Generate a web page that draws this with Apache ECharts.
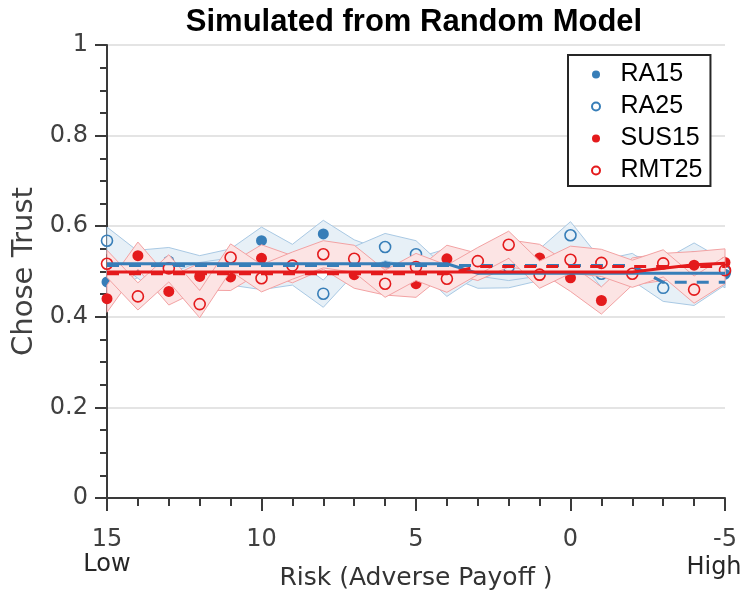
<!DOCTYPE html>
<html><head><meta charset="utf-8">
<script src="https://cdn.jsdelivr.net/npm/echarts@6/dist/echarts.min.js"></script>
<style>html,body{margin:0;padding:0;background:#fff}#c{width:741px;height:596px}</style>
</head><body><div id="c"></div>
<script>
// ---------------- data ----------------
const riskX = [15,14,13,12,11,10,9,8,7,6,5,4,3,2,1,0,-1,-2,-3,-4,-5];
const RA15  = [0.477,0.517,0.523,0.505,0.520,0.568,0.530,0.583,0.540,0.515,0.500,0.520,0.493,0.494,0.510,0.508,0.500,0.505,0.495,0.533,0.494];
const RA25  = [0.568,0.515,0.467,0.490,0.500,0.490,0.500,0.451,0.525,0.554,0.538,0.475,0.520,0.510,0.520,0.580,0.495,0.510,0.464,0.455,0.500];
const SUS15 = [0.440,0.535,0.456,0.489,0.488,0.529,0.505,0.535,0.493,0.478,0.473,0.528,0.510,0.540,0.530,0.486,0.436,0.500,0.510,0.514,0.520];
const RMT25 = [0.517,0.445,0.507,0.428,0.531,0.485,0.513,0.538,0.528,0.473,0.510,0.484,0.523,0.559,0.493,0.526,0.519,0.495,0.518,0.460,0.503];
// model fits
const RA15fit  = [0.517,0.517,0.517,0.517,0.517,0.517,0.517,0.517,0.517,0.517,0.517,0.517,0.496,0.496,0.496,0.496,0.496,0.496,0.496,0.496,0.496];
const RA25fit  = [0.513,0.513,0.513,0.513,0.513,0.513,0.513,0.513,0.513,0.513,0.513,0.513,0.513,0.513,0.513,0.513,0.513,0.513,0.476,0.476,0.476];
const SUS15fit = [0.499,0.499,0.499,0.499,0.499,0.499,0.499,0.499,0.499,0.499,0.499,0.499,0.499,0.499,0.499,0.499,0.499,0.499,0.507,0.515,0.518];
const RMT25fit = [0.495,0.495,0.495,0.495,0.495,0.495,0.495,0.495,0.495,0.495,0.495,0.495,0.511,0.511,0.511,0.511,0.511,0.511,0.511,0.511,0.511];
// half width of the confidence band
const bandHalf = [0.03];
const seriesNames = ['RA15','RA25','SUS15','RMT25'];
const xTicks = [15,10,5,0,-5];
const yTicks = ['0','0.2','0.4','0.6','0.8','1'];

// ---------------- styles ----------------
const BLUE = '#377eb8', RED = '#e41a1c';
const BLUE_FILL = '#e7f0f7', BLUE_EDGE = '#a9c9e4';
const RED_FILL = '#fce4e4', RED_EDGE = '#f3a2a3';
const AX = '"DejaVu Sans", sans-serif';
const AXC = '#3a3a3a';

function pairs(vals){ return riskX.map((x,i)=>[x, vals[i]]); }

function band(name, vals, fill, edge, z){
  return {
    type:'custom', name:name+' band', silent:true, animation:false, z:z,
    data: pairs(vals), encode:{x:0,y:1},
    renderItem: function(params, api){
      if (params.dataIndex !== 0) return null;
      const h = bandHalf[0];
      const up = riskX.map((x,i)=>api.coord([x, vals[i]+h]));
      const lo = riskX.map((x,i)=>api.coord([x, vals[i]-h])).reverse();
      return {type:'polygon', shape:{points: up.concat(lo)}, style:{fill: fill, stroke: edge, lineWidth: 1, opacity:1}};
    }
  };
}
function pts(name, vals, color, open, z){
  return {
    type:'scatter', name:name, data: pairs(vals), symbol:'circle', symbolSize: 11,
    silent:true, clip:false, z:z,
    itemStyle: open ? {color:'rgba(255,255,255,0)', borderColor:color, borderWidth:1.6, opacity:1}
                    : {color:color, opacity:1},
    emphasis:{disabled:true}
  };
}
function fit(vals, color, dashed, z){
  return {
    type:'line', data: pairs(vals), symbol:'none', silent:true, z:z,
    lineStyle:{color:color, width:3, type: dashed ? [12,10] : 'solid'},
    emphasis:{disabled:true}
  };
}

const chart = echarts.init(document.getElementById('c'), null, {renderer:'canvas'});
chart.setOption({
  animation:false,
  backgroundColor:'#fff',
  title:{
    text:'Simulated from Random Model', left:409, top:2, textAlign:'center',
    textStyle:{fontFamily:'"Liberation Sans", Arial, sans-serif', fontWeight:'bold', fontSize:31, color:'#000'}
  },
  grid:{left:107, right:16, top:45, bottom:98, containLabel:false, outerBoundsMode:'none'},
  legend:{
    show:true, orient:'vertical', left:568, top:55, z:30, data: seriesNames,
    itemWidth:39, itemHeight:8, itemGap:7, padding:[7,8,3,23],
    backgroundColor:'#fff', borderColor:'#262626', borderWidth:2, borderRadius:0,
    selectedMode:false,
    textStyle:{fontFamily:'"Liberation Sans", Arial, sans-serif', fontSize:25, lineHeight:25, color:'#000'}
  },
  xAxis:{
    type:'value', min:-5, max:15, interval:5, inverse:true,
    axisLine:{show:true, onZero:false, lineStyle:{color:AXC, width:2}},
    axisTick:{show:true, length:13, lineStyle:{color:AXC, width:2}},
    minorTick:{show:true, splitNumber:5, length:8, lineStyle:{color:AXC, width:2}},
    splitLine:{show:false},
    axisLabel:{fontFamily:AX, fontSize:24, color:'#404040', margin:30,
      formatter: v => String(xTicks[xTicks.indexOf(v)])},
    name:'Risk (Adverse Payoff )', nameLocation:'middle', nameGap:68,
    nameTextStyle:{fontFamily:AX, fontSize:25, color:'#333'}
  },
  yAxis:{
    type:'value', min:0, max:1, interval:0.2,
    axisLine:{show:true, onZero:false, lineStyle:{color:AXC, width:2}},
    axisTick:{show:true, length:12, lineStyle:{color:AXC, width:2}},
    minorTick:{show:true, splitNumber:4, length:7, lineStyle:{color:AXC, width:2}},
    splitLine:{show:true, lineStyle:{color:'#e4e4e4', width:2}},
    axisLabel:{fontFamily:AX, fontSize:24, color:'#404040', margin:19,
      formatter: v => yTicks[Math.round(v*5)]},
    name:'Chose Trust', nameLocation:'middle', nameGap:55, nameRotate:90,
    nameTextStyle:{fontFamily:AX, fontSize:29, color:'#404040'}
  },
  graphic:[
    {type:'text', x:107, y:565, silent:true, style:{text:'Low', font:'24px "DejaVu Sans"', fill:'#262626', align:'center', verticalAlign:'middle'}},
    {type:'text', x:714, y:568, silent:true, style:{text:'High', font:'24px "DejaVu Sans"', fill:'#262626', align:'center', verticalAlign:'middle'}}
  ],
  series:[
    band('RA15', RA15, BLUE_FILL, BLUE_EDGE, 2), pts('RA15', RA15, BLUE, false, 3),
    band('RA25', RA25, BLUE_FILL, BLUE_EDGE, 4), pts('RA25', RA25, BLUE, true, 5),
    band('SUS15', SUS15, RED_FILL, RED_EDGE, 6), pts('SUS15', SUS15, RED, false, 7),
    band('RMT25', RMT25, RED_FILL, RED_EDGE, 8), pts('RMT25', RMT25, RED, true, 9),
    fit(RA15fit, BLUE, false, 10), fit(RA25fit, BLUE, true, 11),
    fit(SUS15fit, RED, false, 12), fit(RMT25fit, RED, true, 13)
  ]
});
</script></body></html>
